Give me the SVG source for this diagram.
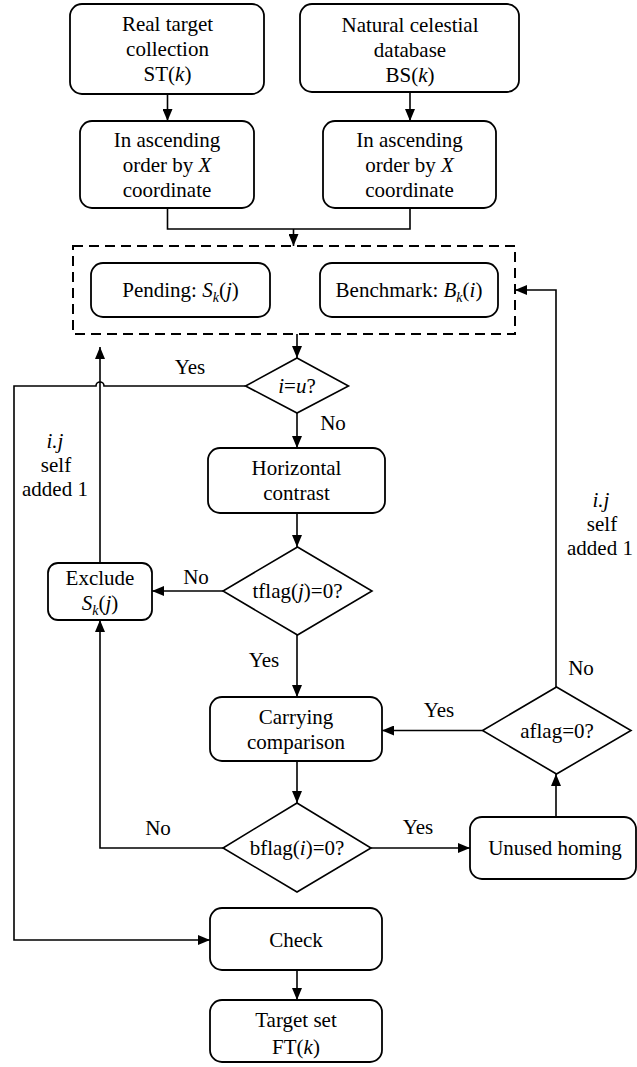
<svg xmlns="http://www.w3.org/2000/svg" width="637" height="1067" viewBox="0 0 637 1067">
<style>
.box{fill:#fff;stroke:#000;stroke-width:1.8}
.dia{fill:#fff;stroke:#000;stroke-width:1.6}
.ln{fill:none;stroke:#000;stroke-width:1.6}
.dash{fill:none;stroke:#000;stroke-width:2;stroke-dasharray:10 6}
text{font-size:21px;fill:#000;text-anchor:middle}
.i{font-style:italic}
.sub{font-style:italic;font-size:14px}
</style>
<defs>
<marker id="ah" markerUnits="userSpaceOnUse" markerWidth="12" markerHeight="10" refX="12" refY="5" orient="auto">
<path d="M0,0 L12,5 L0,10 z" fill="#000"/>
</marker>
</defs>
<rect width="637" height="1067" fill="#fff"/>
<g id="connectors">
<path class="ln" d="M167.5,94 V121" marker-end="url(#ah)"/>
<path class="ln" d="M410,92 V121" marker-end="url(#ah)"/>
<path class="ln" d="M167.5,208 V229 H410 V208"/>
<path class="ln" d="M293.5,229 V246" marker-end="url(#ah)"/>
<path class="ln" d="M297,334 V358" marker-end="url(#ah)"/>
<path class="ln" d="M245.5,386 H104 A4,4 0 0 0 96,386 H14 V940 H210" marker-end="url(#ah)"/>
<path class="ln" d="M100,563 V347" marker-end="url(#ah)"/>
<path class="ln" d="M297,413 V448" marker-end="url(#ah)"/>
<path class="ln" d="M297,513 V547" marker-end="url(#ah)"/>
<path class="ln" d="M223,591 H152" marker-end="url(#ah)"/>
<path class="ln" d="M297,635 V697" marker-end="url(#ah)"/>
<path class="ln" d="M297,761 V803" marker-end="url(#ah)"/>
<path class="ln" d="M223,848 H100 V620" marker-end="url(#ah)"/>
<path class="ln" d="M371,848 H470" marker-end="url(#ah)"/>
<path class="ln" d="M556,817 V774" marker-end="url(#ah)"/>
<path class="ln" d="M482.5,730.5 H382" marker-end="url(#ah)"/>
<path class="ln" d="M556,687 V290 H515" marker-end="url(#ah)"/>
<path class="ln" d="M297,970 V1000" marker-end="url(#ah)"/>
</g>
<g font-family="'Liberation Serif', 'Times New Roman', 'DejaVu Serif', serif">
<g id="n-real">
<rect class="box" x="70" y="4" width="194" height="90" rx="12"/>
<text x="167.5" y="31">Real target</text>
<text x="167.5" y="56">collection</text>
<text x="167.5" y="81">ST(<tspan class="i">k</tspan>)</text>
</g>
<g id="n-natural">
<rect class="box" x="300" y="4" width="219" height="88" rx="12"/>
<text x="410" y="32">Natural celestial</text>
<text x="410" y="57">database</text>
<text x="410" y="82">BS(<tspan class="i">k</tspan>)</text>
</g>
<g id="n-sort1">
<rect class="box" x="80" y="121" width="174" height="87" rx="12"/>
<text x="167" y="147">In ascending</text>
<text x="167" y="172">order by <tspan class="i">X</tspan></text>
<text x="167" y="197">coordinate</text>
</g>
<g id="n-sort2">
<rect class="box" x="323" y="121" width="173" height="87" rx="12"/>
<text x="409.5" y="147">In ascending</text>
<text x="409.5" y="172">order by <tspan class="i">X</tspan></text>
<text x="409.5" y="197">coordinate</text>
</g>
<g id="n-group">
<rect class="dash" x="73" y="246" width="442" height="88"/>
</g>
<g id="n-pending">
<rect class="box" x="91" y="263" width="179" height="54" rx="12"/>
<text x="180.5" y="297">Pending: <tspan class="i">S</tspan><tspan class="sub" dy="5">k</tspan><tspan dy="-5">(</tspan><tspan class="i">j</tspan>)</text>
</g>
<g id="n-bench">
<rect class="box" x="320" y="263" width="178" height="54" rx="12"/>
<text x="409" y="297">Benchmark: <tspan class="i">B</tspan><tspan class="sub" dy="5">k</tspan><tspan dy="-5">(</tspan><tspan class="i">i</tspan>)</text>
</g>
<g id="n-iu">
<polygon class="dia" points="297,358 348.5,386 297,413 245.5,386"/>
<text x="297" y="393"><tspan class="i">i</tspan>=<tspan class="i">u</tspan>?</text>
</g>
<g id="n-horiz">
<rect class="box" x="208" y="448" width="177" height="65" rx="12"/>
<text x="296.5" y="475">Horizontal</text>
<text x="296.5" y="500">contrast</text>
</g>
<g id="n-tflag">
<polygon class="dia" points="297.5,547 372,591 297.5,635 223,591"/>
<text x="297.5" y="598">tflag(<tspan class="i">j</tspan>)=0?</text>
</g>
<g id="n-exclude">
<rect class="box" x="48" y="563" width="104" height="57" rx="10"/>
<text x="100" y="585">Exclude</text>
<text x="100" y="610"><tspan class="i">S</tspan><tspan class="sub" dy="5">k</tspan><tspan dy="-5">(</tspan><tspan class="i">j</tspan>)</text>
</g>
<g id="n-carry">
<rect class="box" x="210" y="697" width="172" height="64" rx="12"/>
<text x="296" y="724">Carrying</text>
<text x="296" y="749">comparison</text>
</g>
<g id="n-aflag">
<polygon class="dia" points="556.5,687 631,730.5 556.5,774 482.5,730.5"/>
<text x="557" y="738">aflag=0?</text>
</g>
<g id="n-bflag">
<polygon class="dia" points="297,803 371,848 297,892 223,848"/>
<text x="297" y="855">bflag(<tspan class="i">i</tspan>)=0?</text>
</g>
<g id="n-unused">
<rect class="box" x="470" y="817" width="166" height="62" rx="12"/>
<text x="555" y="855">Unused homing</text>
</g>
<g id="n-check">
<rect class="box" x="210" y="908" width="172" height="62" rx="12"/>
<text x="296" y="947">Check</text>
</g>
<g id="n-target">
<rect class="box" x="210" y="1000" width="172" height="62" rx="12"/>
<text x="296" y="1027">Target set</text>
<text x="296" y="1054">FT(<tspan class="i">k</tspan>)</text>
</g>
<g id="labels">
<text x="190" y="374">Yes</text>
<text x="333" y="430">No</text>
<text x="55" y="448" class="i">i.j</text>
<text x="56" y="472">self</text>
<text x="55" y="496">added 1</text>
<text x="196" y="584">No</text>
<text x="264" y="667">Yes</text>
<text x="601" y="507" class="i">i.j</text>
<text x="602" y="531">self</text>
<text x="600" y="555">added 1</text>
<text x="581" y="675">No</text>
<text x="439" y="717">Yes</text>
<text x="158" y="835">No</text>
<text x="418" y="834">Yes</text>
</g>
</g>
</svg>
